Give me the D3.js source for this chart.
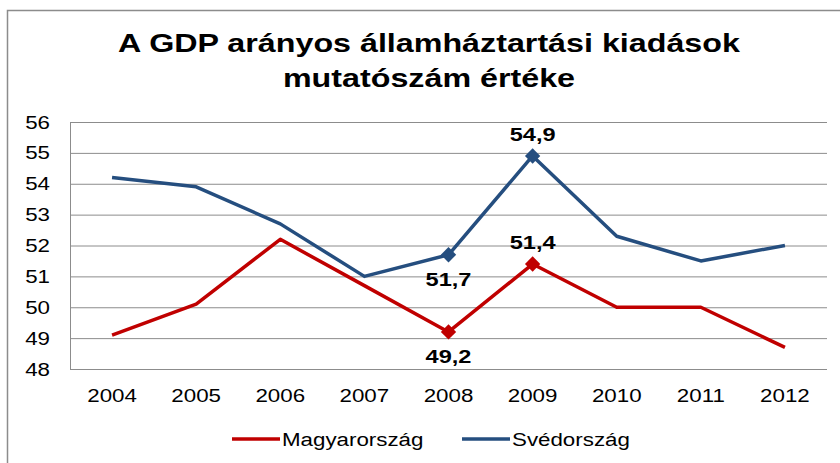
<!DOCTYPE html>
<html lang="hu">
<head>
<meta charset="UTF-8">
<script src="https://d3js.org/d3.v7.min.js"></script>
<style>
  body { margin: 0; background: #fff; }
  svg text { font-family: "Liberation Sans", Arial, sans-serif; fill: #000; }
</style>
</head>
<body>
<div id="chart"></div>
<script>
const years = ["2004", "2005", "2006", "2007", "2008", "2009", "2010", "2011", "2012"];
const hungary = [49.1, 50.1, 52.2, 50.7, 49.2, 51.4, 50.0, 50.0, 48.7];
const sweden = [54.2, 53.9, 52.7, 51.0, 51.7, 54.9, 52.3, 51.5, 52.0];
const yTicks = [48, 49, 50, 51, 52, 53, 54, 55, 56];
const seriesNames = ["Magyarország", "Svédország"];
const titleLines = ["A GDP arányos államháztartási kiadások", "mutatószám értéke"];
// points that carry a marker and a label: [series index, year index, label position]
const labelled = [
  [0, 4, "below"], [0, 5, "above"],
  [1, 4, "below"], [1, 5, "above"]
];

const width = 840, height = 463;
const margin = {top: 122, right: 13, bottom: 94, left: 70};
const colors = ["#c00000", "#254e7f"];
const stretch = 1.24; // the original text looks widened

const svg = d3.select("#chart").append("svg")
  .attr("width", width).attr("height", height);

// outer frame
svg.append("path")
  .attr("d", "M7.5," + height + "V10.5H" + width)
  .attr("fill", "none").attr("stroke", "#8c8c8c").attr("stroke-width", 1.5);

// title
svg.append("g").selectAll("text")
  .data(titleLines).enter().append("text")
  .attr("x", 429).attr("y", (d, i) => 52 + i * 35)
  .attr("text-anchor", "middle")
  .style("font-size", "26px").style("font-weight", "bold")
  .text(d => d);

const x = d3.scalePoint().domain(years)
  .range([margin.left, width - margin.right]).padding(0.5);
const y = d3.scaleLinear().domain([48, 56])
  .range([height - margin.bottom, margin.top]);

// grid lines
svg.append("g")
  .attr("transform", "translate(" + margin.left + ",0)")
  .call(d3.axisLeft(y).tickValues(yTicks).tickSize(-(width - margin.right - margin.left)).tickFormat(""))
  .call(g => g.select(".domain").remove())
  .call(g => g.selectAll("line").attr("stroke", "#8c8c8c").attr("stroke-width", 1));

// y labels
svg.append("g").selectAll("text")
  .data(yTicks).enter().append("text")
  .attr("x", 50).attr("y", d => y(d) + 6.5)
  .attr("text-anchor", "end")
  .style("font-size", "18px")
  .text(d => d);

// axes lines
svg.append("line")
  .attr("x1", margin.left + 0.5).attr("x2", margin.left + 0.5)
  .attr("y1", margin.top).attr("y2", height - margin.bottom)
  .attr("stroke", "#8c8c8c");
svg.append("line")
  .attr("x1", margin.left).attr("x2", width - margin.right)
  .attr("y1", height - margin.bottom + 0.5).attr("y2", height - margin.bottom + 0.5)
  .attr("stroke", "#8c8c8c");

// x labels
svg.append("g").selectAll("text")
  .data(years).enter().append("text")
  .attr("x", d => x(d)).attr("y", 402)
  .attr("text-anchor", "middle")
  .style("font-size", "18px")
  .text(d => d);

const series = [hungary, sweden];
const line = d3.line().x((d, i) => x(years[i])).y(d => y(d));

svg.append("g").selectAll("path")
  .data(series).enter().append("path")
  .attr("d", d => line(d))
  .attr("fill", "none")
  .attr("stroke", (d, i) => colors[i])
  .attr("stroke-width", 3.5)
  .attr("stroke-linejoin", "round");

// markers and labels
const diamond = d3.symbol().type(d3.symbolDiamond2).size(150);
const lab = svg.append("g");
labelled.forEach(([s, i, pos]) => {
  const v = series[s][i];
  const px = x(years[i]), py = y(v);
  lab.append("path")
    .attr("d", diamond)
    .attr("transform", "translate(" + px + "," + py + ")")
    .attr("fill", colors[s]);
  lab.append("text")
    .attr("x", px).attr("y", pos === "above" ? py - 15 : py + 31)
    .attr("text-anchor", "middle")
    .style("font-size", "19px").style("font-weight", "bold")
    .text(d3.format(".1f")(v).replace(".", ","));
});

// legend
const legend = svg.append("g");
const legendX = [232, 462];
seriesNames.forEach((name, i) => {
  legend.append("line")
    .attr("x1", legendX[i]).attr("x2", legendX[i] + 48)
    .attr("y1", 439).attr("y2", 439)
    .attr("stroke", colors[i]).attr("stroke-width", 3.5);
  legend.append("text")
    .attr("x", legendX[i] + 50).attr("y", 446)
    .style("font-size", "18px")
    .text(name);
});

// widen all text the way the original does
svg.selectAll("text").each(function () {
  const w = this.getComputedTextLength();
  d3.select(this).attr("textLength", w * stretch).attr("lengthAdjust", "spacingAndGlyphs");
});
</script>
</body>
</html>
